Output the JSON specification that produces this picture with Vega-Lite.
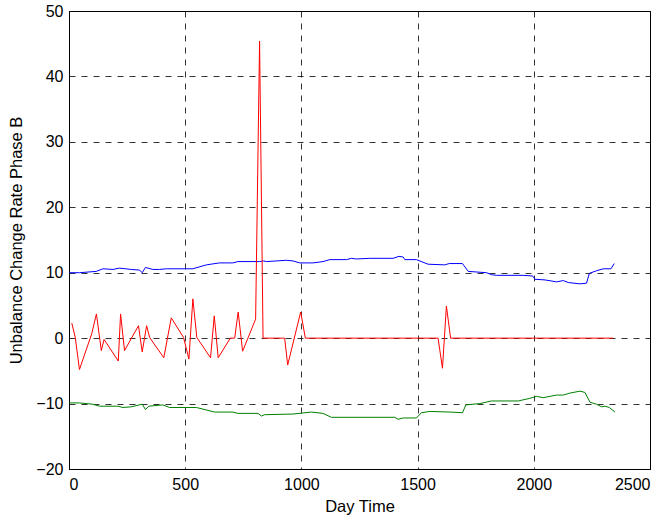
{
  "$schema": "https://vega.github.io/schema/vega-lite/v6.json",
  "autosize": {"type": "none"},
  "width": 581,
  "height": 458,
  "padding": {"left": 69, "top": 11, "right": 18, "bottom": 50},
  "background": "white",
  "config": {
    "font": "Liberation Sans",
    "view": {"stroke": "black", "strokeWidth": 1},
    "axis": {
      "domainColor": "black", "tickColor": "black", "labelColor": "black", "titleColor": "black",
      "labelFontSize": 16, "titleFontSize": 16.5, "titleFontWeight": "normal",
      "gridColor": "black", "gridDash": [6, 6], "gridOpacity": 1, "gridWidth": 0.8,
      "ticks": false
    }
  },
  "data": {"values": [
    {"s":"B","x":0,"y":10.0},{"s":"B","x":45,"y":10.0},{"s":"B","x":117,"y":10.2},{"s":"B","x":146,"y":10.6},{"s":"B","x":189,"y":10.5},{"s":"B","x":217,"y":10.7},{"s":"B","x":268,"y":10.5},{"s":"B","x":304,"y":10.4},{"s":"B","x":315,"y":10.0},{"s":"B","x":329,"y":10.8},{"s":"B","x":361,"y":10.5},{"s":"B","x":390,"y":10.5},{"s":"B","x":419,"y":10.6},{"s":"B","x":533,"y":10.6},{"s":"B","x":591,"y":11.2},{"s":"B","x":648,"y":11.5},{"s":"B","x":705,"y":11.5},{"s":"B","x":727,"y":11.7},{"s":"B","x":820,"y":11.7},{"s":"B","x":838,"y":11.8},{"s":"B","x":850,"y":11.7},{"s":"B","x":935,"y":11.9},{"s":"B","x":964,"y":11.8},{"s":"B","x":993,"y":11.5},{"s":"B","x":1050,"y":11.5},{"s":"B","x":1093,"y":11.7},{"s":"B","x":1122,"y":12.0},{"s":"B","x":1194,"y":12.0},{"s":"B","x":1215,"y":12.2},{"s":"B","x":1237,"y":12.1},{"s":"B","x":1294,"y":12.2},{"s":"B","x":1395,"y":12.2},{"s":"B","x":1420,"y":12.5},{"s":"B","x":1438,"y":12.4},{"s":"B","x":1445,"y":12.0},{"s":"B","x":1495,"y":12.0},{"s":"B","x":1545,"y":11.3},{"s":"B","x":1617,"y":11.2},{"s":"B","x":1636,"y":11.4},{"s":"B","x":1693,"y":11.4},{"s":"B","x":1718,"y":10.2},{"s":"B","x":1797,"y":10.0},{"s":"B","x":1818,"y":9.7},{"s":"B","x":1840,"y":9.6},{"s":"B","x":1954,"y":9.6},{"s":"B","x":1995,"y":9.5},{"s":"B","x":2005,"y":9.0},{"s":"B","x":2048,"y":8.9},{"s":"B","x":2098,"y":8.6},{"s":"B","x":2127,"y":8.8},{"s":"B","x":2148,"y":8.5},{"s":"B","x":2199,"y":8.3},{"s":"B","x":2227,"y":8.4},{"s":"B","x":2239,"y":9.9},{"s":"B","x":2270,"y":10.3},{"s":"B","x":2299,"y":10.6},{"s":"B","x":2332,"y":10.6},{"s":"B","x":2346,"y":11.4},
    {"s":"G","x":0,"y":-9.9},{"s":"G","x":45,"y":-9.9},{"s":"G","x":103,"y":-10.1},{"s":"G","x":131,"y":-10.4},{"s":"G","x":210,"y":-10.4},{"s":"G","x":232,"y":-10.6},{"s":"G","x":268,"y":-10.5},{"s":"G","x":315,"y":-10.1},{"s":"G","x":329,"y":-10.9},{"s":"G","x":344,"y":-10.4},{"s":"G","x":404,"y":-10.2},{"s":"G","x":433,"y":-10.6},{"s":"G","x":548,"y":-10.6},{"s":"G","x":627,"y":-11.3},{"s":"G","x":705,"y":-11.3},{"s":"G","x":727,"y":-11.5},{"s":"G","x":813,"y":-11.5},{"s":"G","x":828,"y":-11.9},{"s":"G","x":842,"y":-11.7},{"s":"G","x":964,"y":-11.6},{"s":"G","x":1043,"y":-11.3},{"s":"G","x":1093,"y":-11.5},{"s":"G","x":1129,"y":-12.1},{"s":"G","x":1402,"y":-12.1},{"s":"G","x":1416,"y":-12.4},{"s":"G","x":1438,"y":-12.2},{"s":"G","x":1495,"y":-12.2},{"s":"G","x":1516,"y":-11.4},{"s":"G","x":1553,"y":-11.2},{"s":"G","x":1639,"y":-11.3},{"s":"G","x":1693,"y":-11.4},{"s":"G","x":1708,"y":-10.2},{"s":"G","x":1768,"y":-10.0},{"s":"G","x":1818,"y":-9.6},{"s":"G","x":1933,"y":-9.6},{"s":"G","x":1983,"y":-9.2},{"s":"G","x":2012,"y":-8.9},{"s":"G","x":2040,"y":-9.1},{"s":"G","x":2098,"y":-8.7},{"s":"G","x":2127,"y":-8.7},{"s":"G","x":2155,"y":-8.4},{"s":"G","x":2199,"y":-8.1},{"s":"G","x":2220,"y":-8.3},{"s":"G","x":2242,"y":-9.8},{"s":"G","x":2270,"y":-10.1},{"s":"G","x":2292,"y":-10.5},{"s":"G","x":2306,"y":-10.4},{"s":"G","x":2325,"y":-10.6},{"s":"G","x":2349,"y":-11.3},
    {"s":"R","x":12,"y":2.3},{"s":"R","x":27,"y":0.1},{"s":"R","x":45,"y":-4.8},{"s":"R","x":98,"y":0.7},{"s":"R","x":118,"y":3.7},{"s":"R","x":139,"y":-1.9},{"s":"R","x":151,"y":-0.2},{"s":"R","x":212,"y":-3.5},{"s":"R","x":222,"y":3.7},{"s":"R","x":239,"y":-1.9},{"s":"R","x":299,"y":1.9},{"s":"R","x":315,"y":-2.1},{"s":"R","x":334,"y":1.9},{"s":"R","x":347,"y":0.1},{"s":"R","x":408,"y":-3.0},{"s":"R","x":440,"y":3.1},{"s":"R","x":493,"y":0.1},{"s":"R","x":516,"y":-3.2},{"s":"R","x":533,"y":6.0},{"s":"R","x":550,"y":0.1},{"s":"R","x":609,"y":-3.0},{"s":"R","x":625,"y":3.4},{"s":"R","x":642,"y":-3.0},{"s":"R","x":694,"y":0},{"s":"R","x":713,"y":0},{"s":"R","x":728,"y":4.0},{"s":"R","x":747,"y":-2.0},{"s":"R","x":803,"y":2.9},{"s":"R","x":820,"y":45.4},{"s":"R","x":835,"y":0},{"s":"R","x":928,"y":0},{"s":"R","x":941,"y":-4.1},{"s":"R","x":997,"y":4.0},{"s":"R","x":1017,"y":0},{"s":"R","x":1588,"y":0},{"s":"R","x":1607,"y":-4.6},{"s":"R","x":1624,"y":4.9},{"s":"R","x":1642,"y":0},{"s":"R","x":2341,"y":0}
  ]},
  "mark": {"type": "line", "strokeWidth": 1, "clip": true},
  "encoding": {
    "x": {"field": "x", "type": "quantitative", "title": "Day Time",
      "scale": {"domain": [0, 2500], "nice": false, "zero": false},
      "axis": {"values": [0, 500, 1000, 1500, 2000, 2500], "format": "d", "labelPadding": 7, "titlePadding": 6}},
    "y": {"field": "y", "type": "quantitative", "title": "Unbalance Change Rate Phase B",
      "scale": {"domain": [-20, 50], "nice": false, "zero": false},
      "axis": {"values": [-20, -10, 0, 10, 20, 30, 40, 50], "format": "d", "labelPadding": 6, "titlePadding": 11}},
    "color": {"field": "s", "type": "nominal", "legend": null,
      "scale": {"domain": ["B", "G", "R"], "range": ["#0000ff", "#008000", "#ff0000"]}}
  }
}
